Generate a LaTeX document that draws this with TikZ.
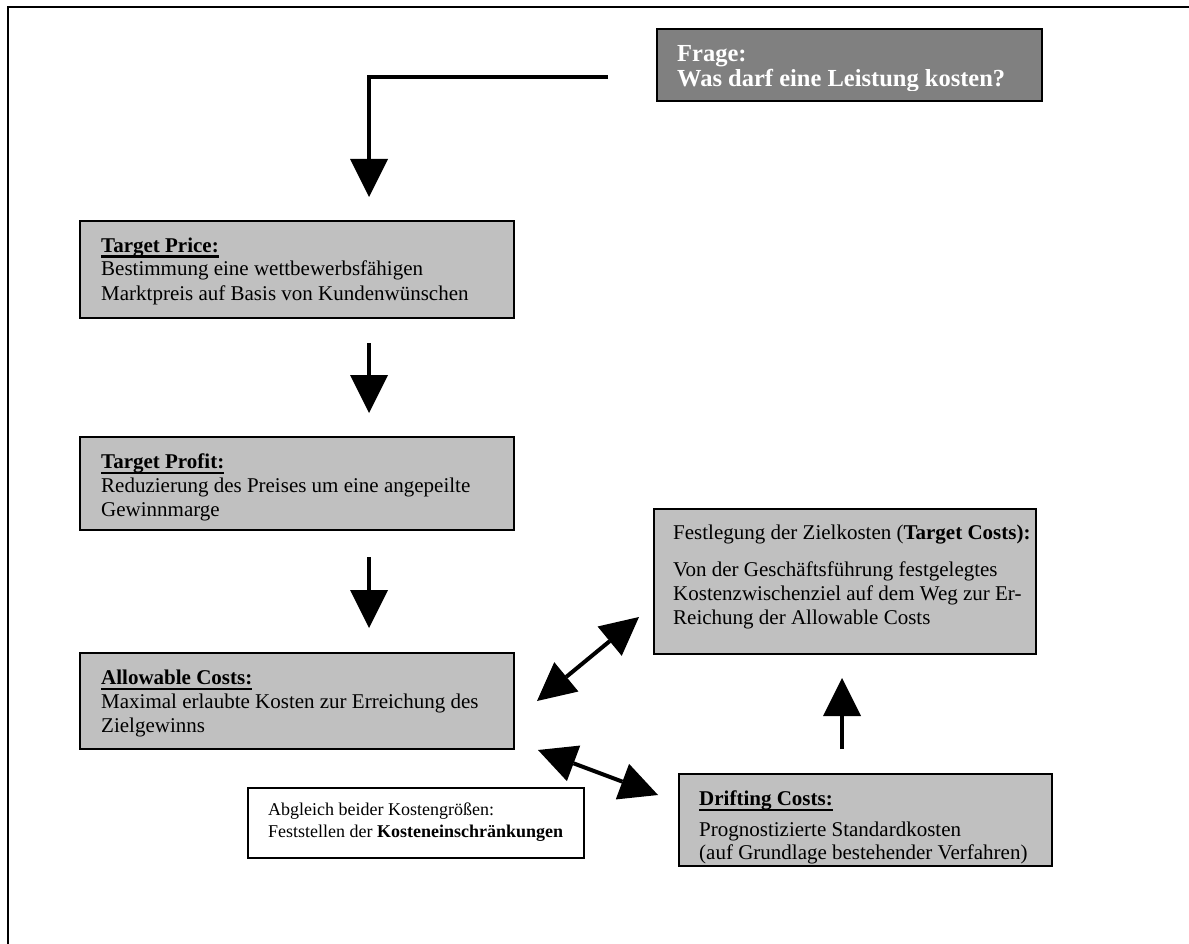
\documentclass[tikz,border=0pt]{standalone}
\usepackage{fontspec}
\setmainfont{Liberation Serif}
\usetikzlibrary{arrows.meta}
\definecolor{boxgray}{HTML}{C0C0C0}
\definecolor{darkbox}{HTML}{808080}
\newcommand\ulbold[1]{\setbox0\hbox{\bfseries #1}\rlap{\rule[-6pt]{\wd0}{2.5pt}}\box0}
\begin{document}
\begin{tikzpicture}[x=1pt,y=-1pt,
  box/.style={draw=black, line width=2pt, fill=boxgray, anchor=north west, inner sep=0pt, outer sep=0pt},
  whitebox/.style={box, fill=white},
  darkboxst/.style={box, fill=darkbox},
  txt/.style={anchor=base west, inner sep=0pt, font=\fontsize{21}{24}\selectfont},
  bigtxt/.style={anchor=base west, inner sep=0pt, text=white, font=\fontsize{24.5}{28}\selectfont\bfseries},
  smalltxt/.style={anchor=base west, inner sep=0pt, font=\fontsize{18}{21}\selectfont},
  conn/.style={line width=4pt, -{Triangle[width=38pt,length=38pt,line width=0pt]}},
  conntwo/.style={line width=4pt, {Triangle[width=38pt,length=38pt,line width=0pt]}-{Triangle[width=38pt,length=38pt,line width=0pt]}},
]
\useasboundingbox (0,0) rectangle (1189,944);
% frame
\draw[line width=2pt] (8,944) -- (8,7) -- (1189,7);

% boxes
\node[darkboxst, minimum width=385pt, minimum height=72pt] (frage) at (657,29) {};
\node[box, minimum width=434pt, minimum height=97pt] (price) at (80,221) {};
\node[box, minimum width=434pt, minimum height=93pt] (profit) at (80,437) {};
\node[box, minimum width=434pt, minimum height=96pt] (allow) at (80,653) {};
\node[box, minimum width=382pt, minimum height=145pt] (tcost) at (654,509) {};
\node[box, minimum width=373pt, minimum height=92pt] (drift) at (679,774) {};
\node[whitebox, minimum width=336pt, minimum height=70pt] (abgl) at (248,788) {};

% texts
\begin{scope}
\clip (658,30) rectangle (1041,91);
\node[bigtxt] (frage1) at (677,62) {Frage:};
\node[bigtxt] (frage2) at (677,87) {Was darf eine Leistung kosten?};
\end{scope}

\node[txt] (price1) at (101,252) {\ulbold{Target Price:}};
\node[txt] (price2) at (101,276) {Bestimmung eine wettbewerbsfähigen};
\node[txt] (price3) at (101,300) {Marktpreis auf Basis von Kundenwünschen};

\node[txt] (profit1) at (101,468) {\ulbold{Target Profit:}};
\node[txt] (profit2) at (101,492) {Reduzierung des Preises um eine angepeilte};
\node[txt] (profit3) at (101,516) {Gewinnmarge};

\node[txt] (allow1) at (101,684) {\ulbold{Allowable Costs:}};
\node[txt] (allow2) at (101,708) {Maximal erlaubte Kosten zur Erreichung des};
\node[txt] (allow3) at (101,732) {Zielgewinns};

\node[txt] (tcost1) at (673,539) {Festlegung der Zielkosten (\textbf{Target Costs):}};
\node[txt] (tcost2) at (673,576) {Von der Geschäftsführung festgelegtes};
\node[txt] (tcost3) at (673,600) {Kostenzwischenziel auf dem Weg zur Er-};
\node[txt] (tcost4) at (673,624) {Reichung der Allowable Costs};

\node[txt] (drift1) at (699,805) {\ulbold{Drifting Costs:}};
\node[txt] (drift2) at (699,836) {Prognostizierte Standardkosten};
\node[txt] (drift3) at (699,859) {(auf Grundlage bestehender Verfahren)};

\node[smalltxt] (abgl1) at (268,815) {Abgleich beider Kostengrößen:};
\node[smalltxt] (abgl2) at (268,837) {Feststellen der \textbf{Kosteneinschränkungen}};

% connectors
\coordinate (c0) at (608,77);
\coordinate (c1) at (369,77);
\coordinate (t1) at (369,197);
\draw[conn, line join=miter] (c0) -- (c1) -- (t1);

\coordinate (a2s) at (369,343);
\coordinate (a2e) at (369,413);
\draw[conn] (a2s) -- (a2e);

\coordinate (a3s) at (369,557);
\coordinate (a3e) at (369,628);
\draw[conn] (a3s) -- (a3e);

\coordinate (a4s) at (842,749);
\coordinate (a4e) at (842,678);
\draw[conn] (a4s) -- (a4e);

\coordinate (d1a) at (537,701);
\coordinate (d1b) at (639,617);
\draw[conntwo] (d1a) -- (d1b);

\coordinate (d2a) at (538,750);
\coordinate (d2b) at (658,795);
\draw[conntwo] (d2a) -- (d2b);
\end{tikzpicture}
\end{document}
